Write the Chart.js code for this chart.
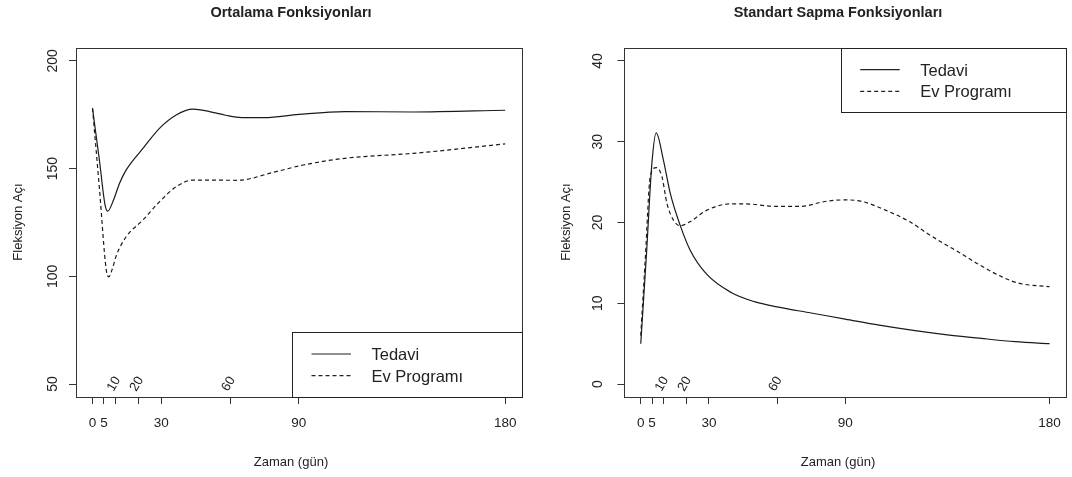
<!DOCTYPE html>
<html>
<head>
<meta charset="utf-8">
<script src="https://cdn.jsdelivr.net/npm/chart.js@4.4.1/dist/chart.umd.min.js"></script>
<style>
    html, body { margin: 0; padding: 0; background: #fff; }
    .wrap { position: absolute; top: 0; width: 536px; height: 477px; }
</style>
</head>
<body>
<div class="wrap" style="left:0"><canvas id="meanChart" width="536" height="477"></canvas></div>
<div class="wrap" style="left:536px"><canvas id="sdChart" width="536" height="477"></canvas></div>
<script>
const FONT = '"Liberation Sans", Arial, sans-serif';
const INK = '#222';

// x axis (days)
const xTicks = [0, 5, 10, 20, 30, 60, 90, 180];
const xTickLabels = ['0', '5', '', '', '30', '', '90', '180'];
const slantTicks = [10, 20, 60];
const seriesNames = ['Tedavi', 'Ev Programı'];

// Ortalama (mean) curves
const meanYTicks = [50, 100, 150, 200];
const meanTedaviDays = [0, 3, 5.5, 6.7, 9, 11.8, 14.7, 22, 29.2, 36.5, 43.8, 51, 58, 65, 75, 90, 110, 140, 180];
const meanTedavi     = [178, 154, 133, 130.3, 135, 143.2, 149.4, 159.4, 168.7, 174.9, 177.6, 176.5, 174.8, 173.7, 173.7, 175.2, 176.5, 176.3, 177.1];
const meanEvDays = [0, 3, 6, 7.1, 8.5, 10.5, 14.7, 22, 29.2, 36.5, 43.8, 63, 80, 92, 110, 140, 180];
const meanEv     = [178, 141, 103, 99.8, 103, 110, 118.4, 126.2, 134.6, 141.6, 144.7, 144.6, 148.6, 151.7, 154.8, 157.1, 161.5];

// Standart sapma (sd) curves
const sdYTicks = [0, 10, 20, 30, 40];
const sdTedaviDays = [0, 2.5, 4.9, 6.8, 10, 13, 17.3, 21.7, 29, 40, 50, 60, 75, 90, 105, 120, 135, 150, 165, 180];
const sdTedavi     = [5.0, 16, 27.3, 31.1, 27.7, 23.6, 19.7, 16.6, 13.6, 11.3, 10.2, 9.55, 8.8, 8.05, 7.3, 6.65, 6.1, 5.65, 5.25, 5.0];
const sdEvDays = [0, 2, 4.2, 6.8, 9.3, 11.5, 14.4, 17.3, 21.7, 29, 39.2, 46.6, 58.6, 70.6, 81, 90, 97.5, 108, 118.4, 125.9, 133.4, 140.8, 148.3, 158.8, 166.2, 180];
const sdEv     = [6, 15.5, 25.7, 26.8, 25.7, 22.4, 20.3, 19.6, 20.1, 21.5, 22.3, 22.3, 22.0, 22.0, 22.6, 22.8, 22.6, 21.5, 20.1, 18.7, 17.4, 16.2, 14.9, 13.3, 12.5, 12.05];

function pts(days, vals) {
    return days.map((d, i) => ({ x: d, y: vals[i] }));
}

// R-style frame, rotated labels, titles and legend box
const rPlotPlugin = {
    id: 'rPlot',
    afterDraw(chart, args, o) {
        const { ctx, chartArea: a, scales: { x, y } } = chart;
        ctx.save();
        ctx.strokeStyle = '#333';
        ctx.lineWidth = 1;
        ctx.strokeRect(Math.round(a.left) + 0.5, Math.round(a.top) + 0.5,
            Math.round(a.right - a.left), Math.round(a.bottom - a.top));

        ctx.fillStyle = INK;
        ctx.textAlign = 'center';
        ctx.textBaseline = 'middle';

        // y tick labels, parallel to axis
        ctx.font = '14px ' + FONT;
        o.yTicks.forEach(v => {
            ctx.save();
            ctx.translate(o.yLabelX, y.getPixelForValue(v));
            ctx.rotate(-Math.PI / 2);
            ctx.fillText(String(v), 0, 0);
            ctx.restore();
        });

        // slanted labels inside the plot
        ctx.font = '13px ' + FONT;
        slantTicks.forEach(v => {
            ctx.save();
            ctx.translate(x.getPixelForValue(v) - 1.5, y.getPixelForValue(o.yTicks[0]));
            ctx.rotate(-60 * Math.PI / 180);
            ctx.fillText(String(v), 0, 0);
            ctx.restore();
        });

        // titles
        ctx.font = 'bold 14.5px ' + FONT;
        ctx.fillText(o.title, o.titleX, 13);
        ctx.font = '13px ' + FONT;
        ctx.fillText('Zaman (gün)', o.titleX, 462);
        ctx.save();
        ctx.translate(o.yTitleX, 222);
        ctx.rotate(-Math.PI / 2);
        ctx.fillText('Fleksiyon Açı', 0, 0);
        ctx.restore();

        // legend
        const L = o.legend;
        const lx = Math.round(L.x) + 0.5, ly = Math.round(L.y) + 0.5;
        const lw = Math.round(a.right) - Math.round(L.x), lh = Math.round(L.h);
        ctx.fillStyle = '#fff';
        ctx.fillRect(lx, ly, lw, lh);
        ctx.strokeStyle = '#222';
        ctx.strokeRect(lx, ly, lw, lh);
        ctx.font = '16.5px ' + FONT;
        ctx.textAlign = 'left';
        seriesNames.forEach((name, i) => {
            const ry = L.y + 21.7 + i * 21.7;
            ctx.strokeStyle = '#222';
            ctx.lineWidth = 1.2;
            ctx.setLineDash(i ? [4, 3] : []);
            ctx.beginPath();
            ctx.moveTo(L.x + 19.5, ry);
            ctx.lineTo(L.x + 59, ry);
            ctx.stroke();
            ctx.setLineDash([]);
            ctx.fillStyle = INK;
            ctx.fillText(name, L.x + 79.5, ry + 1.5);
        });
        ctx.restore();
    }
};

function makeChart(canvasId, cfg) {
    const lineStyle = { borderColor: '#1a1a1a', borderWidth: 1.2, pointRadius: 0, cubicInterpolationMode: 'monotone', fill: false };
    const gridStyle = { drawOnChartArea: false, drawTicks: true, tickLength: 7, color: '#333', lineWidth: 1 };
    return new Chart(document.getElementById(canvasId), {
        type: 'line',
        data: {
            datasets: [
                Object.assign({ label: seriesNames[0], data: pts(cfg.days1, cfg.vals1) }, lineStyle),
                Object.assign({ label: seriesNames[1], data: pts(cfg.days2, cfg.vals2), borderDash: [4, 3] }, lineStyle)
            ]
        },
        options: {
            responsive: false,
            animation: false,
            events: [],
            layout: { padding: { left: 0, top: 48, right: cfg.padRight, bottom: 0 } },
            scales: {
                x: {
                    type: 'linear', min: -7.2, max: 187.2,
                    afterBuildTicks: s => { s.ticks = xTicks.map(v => ({ value: v })); },
                    afterFit: s => { s.height = 80; },
                    grid: gridStyle,
                    border: { display: false },
                    ticks: {
                        autoSkip: false, maxRotation: 0, minRotation: 0, padding: 11,
                        color: INK, font: { family: FONT, size: 13.5 },
                        callback: v => xTickLabels[xTicks.indexOf(v)]
                    }
                },
                y: {
                    type: 'linear', min: cfg.yMin, max: cfg.yMax,
                    afterBuildTicks: s => { s.ticks = cfg.yTicks.map(v => ({ value: v })); },
                    afterFit: s => { s.width = cfg.axisW; },
                    grid: gridStyle,
                    border: { display: false },
                    ticks: { display: false }
                }
            },
            plugins: {
                legend: { display: false },
                tooltip: { enabled: false },
                rPlot: cfg.plot
            }
        },
        plugins: [rPlotPlugin]
    });
}

window.onload = function () {
    makeChart('meanChart', {
        days1: meanTedaviDays, vals1: meanTedavi, days2: meanEvDays, vals2: meanEv,
        yMin: 44, yMax: 206, yTicks: meanYTicks, axisW: 76, padRight: 14.3,
        plot: { yTicks: meanYTicks, yLabelX: 52.7, title: 'Ortalama Fonksiyonları', titleX: 291, yTitleX: 18,
                legend: { x: 292, y: 332.3, h: 65 } }
    });
    makeChart('sdChart', {
        days1: sdTedaviDays, vals1: sdTedavi, days2: sdEvDays, vals2: sdEv,
        yMin: -1.6, yMax: 41.6, yTicks: sdYTicks, axisW: 88.4, padRight: 5,
        plot: { yTicks: sdYTicks, yLabelX: 62.3, title: 'Standart Sapma Fonksiyonları', titleX: 302, yTitleX: 30,
                legend: { x: 304.7, y: 48, h: 64 } }
    });
};
</script>
</body>
</html>
